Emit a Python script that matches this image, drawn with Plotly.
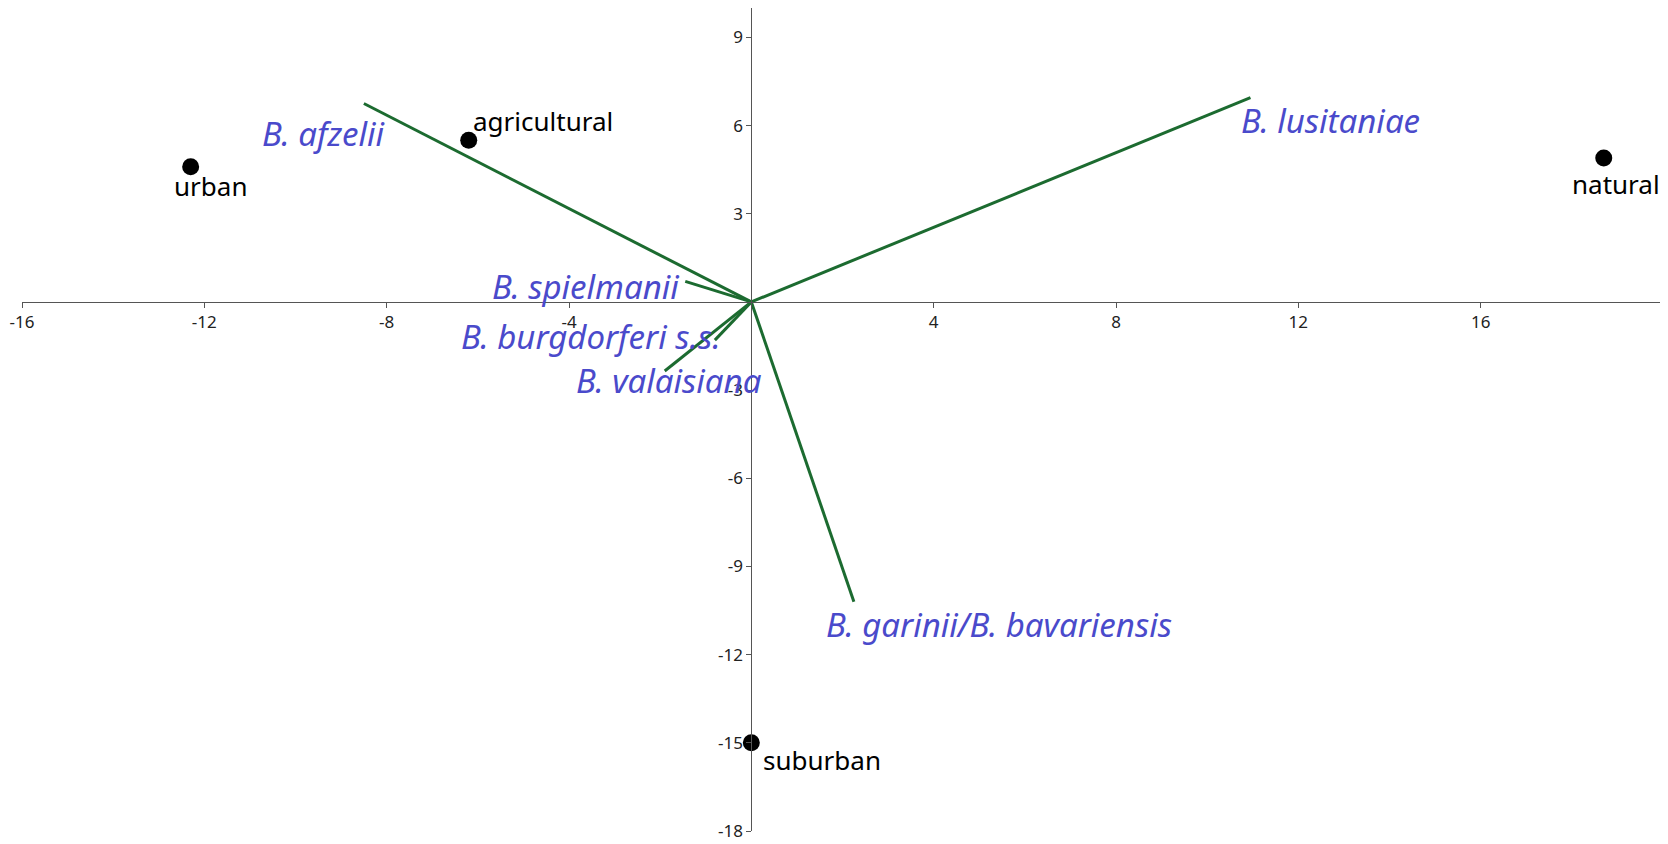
import plotly.graph_objects as go

# sites (ordination scores)
sites = ["urban", "agricultural", "natural", "suburban"]
site_x = [-12.3, -6.2, 18.7, 0.0]
site_y = [4.6, 5.5, 4.9, -15.0]

# species vectors
species = ["B. afzelii", "B. lusitaniae", "B. spielmanii", "B. burgdorferi s.s.",
           "B. valaisiana", "B. garinii/B. bavariensis"]
spec_x = [-8.5, 10.95, -1.45, -0.8, -1.9, 2.25]
spec_y = [6.75, 6.95, 0.7, -1.3, -2.35, -10.2]

x_ticks = [-16, -12, -8, -4, 4, 8, 12, 16]
y_ticks = [9, 6, 3, -3, -6, -9, -12, -15, -18]

green = "#1c6b30"
blue = "#4a4acb"
lbl_font = "Noto Sans"

fig = go.Figure()

for i, name in enumerate(species):
    fig.add_trace(go.Scatter(x=[0, spec_x[i]], y=[0, spec_y[i]], mode="lines",
                             line=dict(color=green, width=3), hoverinfo="skip"))

fig.add_trace(go.Scatter(x=site_x, y=site_y, mode="markers",
                         marker=dict(color="black", size=17), text=sites))

# label offsets in px (dx, dy) from point / arrow tip
spec_shift = [(-40, -30), (80, -23), (-100, -5), (-124, 4), (4, -9), (145, -23)]
site_shift = [(20, -19), (74, 19), (12, -26), (71, -17)]

for i, name in enumerate(species):
    fig.add_annotation(x=spec_x[i], y=spec_y[i], text="<i>" + name + "</i>", showarrow=False,
                       xshift=spec_shift[i][0], yshift=spec_shift[i][1],
                       font=dict(family=lbl_font, size=33, color=blue))

for i, name in enumerate(sites):
    fig.add_annotation(x=site_x[i], y=site_y[i], text=name, showarrow=False,
                       xshift=site_shift[i][0], yshift=site_shift[i][1],
                       font=dict(family=lbl_font, size=26, color="black"))

# page body has an 8px margin, so the figure is made a bit smaller than the window
fig.update_layout(
    width=1660, height=836,
    margin=dict(l=14, r=5, t=0, b=13),
    plot_bgcolor="white", paper_bgcolor="white",
    showlegend=False,
    xaxis=dict(range=[-16, 20], anchor="free", position=18 / 28, automargin=False,
               showgrid=False, zeroline=False, showline=True, linecolor="#555", linewidth=1,
               ticks="outside", ticklen=5, tickcolor="#555",
               tickvals=x_ticks, ticktext=[str(v) for v in x_ticks],
               tickfont=dict(family=lbl_font, size=17, color="#222")),
    yaxis=dict(range=[-18, 10], anchor="free", position=16 / 36, automargin=False,
               showgrid=False, zeroline=False, showline=True, linecolor="#555", linewidth=1,
               ticks="outside", ticklen=5, tickcolor="#555",
               tickvals=y_ticks, ticktext=[str(v) for v in y_ticks],
               tickfont=dict(family=lbl_font, size=17, color="#222")),
)

fig.write_html("out.html")
